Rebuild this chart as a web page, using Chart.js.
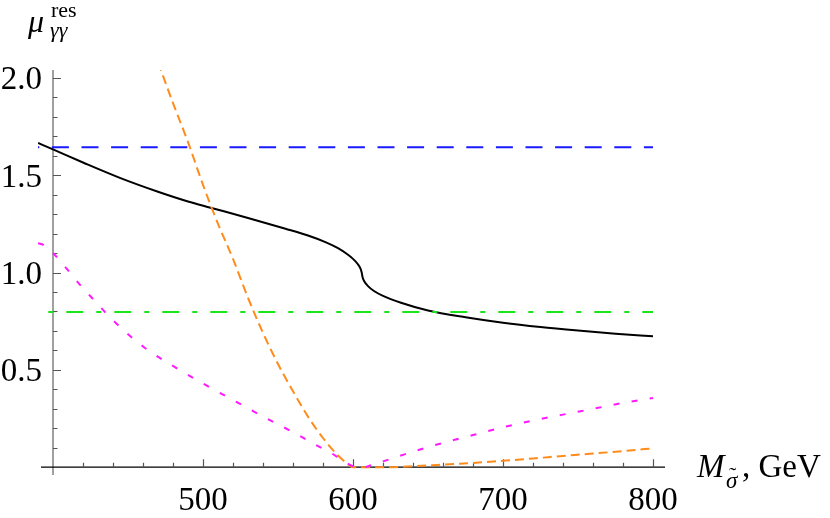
<!DOCTYPE html>
<html>
<head>
<meta charset="utf-8">
<script src="https://cdn.jsdelivr.net/npm/chart.js@4.4.1/dist/chart.umd.min.js"></script>
<style>
  html, body { margin: 0; padding: 0; background: #fff; }
  #wrap { width: 830px; height: 518px; position: relative; }
</style>
</head>
<body>
<div id="wrap"><canvas id="chart"></canvas></div>
<script>
// values (M in GeV, mu dimensionless)
const xTickLabels = [500, 600, 700, 800];
const yTickLabels = [0.5, 1.0, 1.5, 2.0];

const blackX = [390, 400, 420, 445, 470, 490, 505, 530, 555, 570, 582, 590, 596, 600, 603, 605, 605.8, 606.4, 607.5, 610, 614, 620, 632, 650, 675, 700, 725, 750, 775, 800];
const blackY = [1.665, 1.632, 1.565, 1.485, 1.415, 1.365, 1.333, 1.28, 1.225, 1.19, 1.155, 1.125, 1.095, 1.07, 1.045, 1.02, 1.0, 0.975, 0.955, 0.93, 0.905, 0.88, 0.845, 0.805, 0.77, 0.742, 0.72, 0.702, 0.686, 0.672];

const orangeX = [470, 480, 490, 500, 510, 520, 530, 540, 550, 560, 570, 580, 590, 596, 600, 610, 620, 640, 660, 680, 700, 720, 740, 760, 780, 800];
const orangeY = [2.08, 1.87, 1.67, 1.45, 1.25, 1.07, 0.87, 0.69, 0.53, 0.39, 0.26, 0.15, 0.06, 0.02, 0.0, 0.0, 0.0, 0.005, 0.013, 0.022, 0.033, 0.045, 0.058, 0.07, 0.083, 0.097];

const magentaX = [390, 394, 420, 440, 460, 480, 500, 520, 540, 560, 575, 585, 595, 603, 607, 612, 620, 630, 640, 660, 680, 700, 720, 740, 760, 780, 800];
const magentaY = [1.15, 1.14, 0.92, 0.755, 0.62, 0.52, 0.43, 0.345, 0.26, 0.18, 0.115, 0.075, 0.025, 0.0, 0.0, 0.01, 0.03, 0.055, 0.08, 0.125, 0.165, 0.205, 0.24, 0.27, 0.30, 0.33, 0.356];

const blueLevel = 1.643;
const greenLevel = 0.797;
const lineRange = [390, 800];

function pts(xs, ys) {
    return xs.map((x, i) => ({ x: x, y: ys[i] }));
}

const serif = '"Liberation Serif", "Times New Roman", serif';

// Mathematica style axes crossing at (400, 0), ticks pointing inwards
const axesPlugin = {
    id: 'mmaAxes',
    beforeDatasetsDraw(chart) {
        const { ctx, scales: { x, y } } = chart;
        const x0 = x.getPixelForValue(400);
        const y0 = y.getPixelForValue(0);
        ctx.save();

        ctx.lineWidth = 1.5;
        ctx.strokeStyle = '#808080';
        ctx.beginPath();
        ctx.moveTo(x0, y.getPixelForValue(-0.04));
        ctx.lineTo(x0, y.getPixelForValue(2.04));
        ctx.stroke();

        ctx.strokeStyle = '#000';
        ctx.lineWidth = 1.3;
        ctx.beginPath();
        ctx.moveTo(x.getPixelForValue(392), y0);
        ctx.lineTo(x.getPixelForValue(808), y0);
        ctx.stroke();

        ctx.strokeStyle = '#555';
        ctx.lineWidth = 1.2;
        ctx.beginPath();
        for (let v = 420; v <= 800; v += 20) {
            const px = Math.round(x.getPixelForValue(v)) + 0.5;
            const len = v % 100 === 0 ? 8 : 4.5;
            ctx.moveTo(px, y0);
            ctx.lineTo(px, y0 - len);
        }
        for (let i = 1; i <= 20; i++) {
            const py = Math.round(y.getPixelForValue(i / 10)) + 0.5;
            const len = i % 5 === 0 ? 8 : 4.5;
            ctx.moveTo(x0, py);
            ctx.lineTo(x0 + len, py);
        }
        ctx.stroke();

        ctx.fillStyle = '#000';
        ctx.font = '33px ' + serif;
        ctx.textAlign = 'center';
        ctx.textBaseline = 'alphabetic';
        xTickLabels.forEach(v => ctx.fillText(String(v), x.getPixelForValue(v), y0 + 42.5));
        ctx.textAlign = 'right';
        yTickLabels.forEach(v => ctx.fillText(v.toFixed(1), 42, y.getPixelForValue(v) + 11.5));

        // axis titles
        ctx.textAlign = 'left';
        ctx.font = 'italic 32px ' + serif;
        ctx.fillText('\u03bc', 28, 32);
        ctx.font = '22px ' + serif;
        ctx.fillText('res', 51, 17);
        ctx.font = 'italic 22px ' + serif;
        ctx.fillText('\u03b3\u03b3', 50, 37);

        ctx.font = 'italic 33px ' + serif;
        ctx.fillText('M', 697, 477);
        ctx.font = 'italic 23px ' + serif;
        ctx.fillText('\u03c3', 726, 488);
        ctx.font = '22px ' + serif;
        ctx.fillText('\u02dc', 729, 482);
        ctx.font = '33px ' + serif;
        ctx.fillText(', GeV', 742, 477);

        ctx.restore();
    }
};

const common = { pointRadius: 0, fill: false, borderWidth: 2, cubicInterpolationMode: 'monotone' };

new Chart(document.getElementById('chart'), {
    type: 'scatter',
    data: {
        datasets: [
            { ...common, showLine: true, data: pts(lineRange, [blueLevel, blueLevel]), borderColor: '#1a1aff', borderDash: [17, 12.6], borderDashOffset: 15.7 },
            { ...common, showLine: true, data: pts(lineRange, [greenLevel, greenLevel]), borderColor: '#19e619', borderDash: [5, 13, 17, 13], borderDashOffset: -10.3 },
            { ...common, showLine: true, data: pts(magentaX, magentaY), borderColor: '#ff19ff', borderDash: [6, 12.3] },
            { ...common, showLine: true, data: pts(orangeX, orangeY), borderColor: '#ff8c1a', borderDash: [9, 5] },
            { ...common, showLine: true, data: pts(blackX, blackY), borderColor: '#000' }
        ]
    },
    options: {
        responsive: true,
        maintainAspectRatio: false,
        animation: false,
        layout: { padding: { left: 38, right: 165, top: 70, bottom: 43 } },
        plugins: { legend: { display: false }, tooltip: { enabled: false } },
        scales: {
            x: { type: 'linear', min: 390, max: 808, display: false },
            y: { type: 'linear', min: -0.04, max: 2.04, display: false }
        }
    },
    plugins: [axesPlugin]
});
</script>
</body>
</html>
